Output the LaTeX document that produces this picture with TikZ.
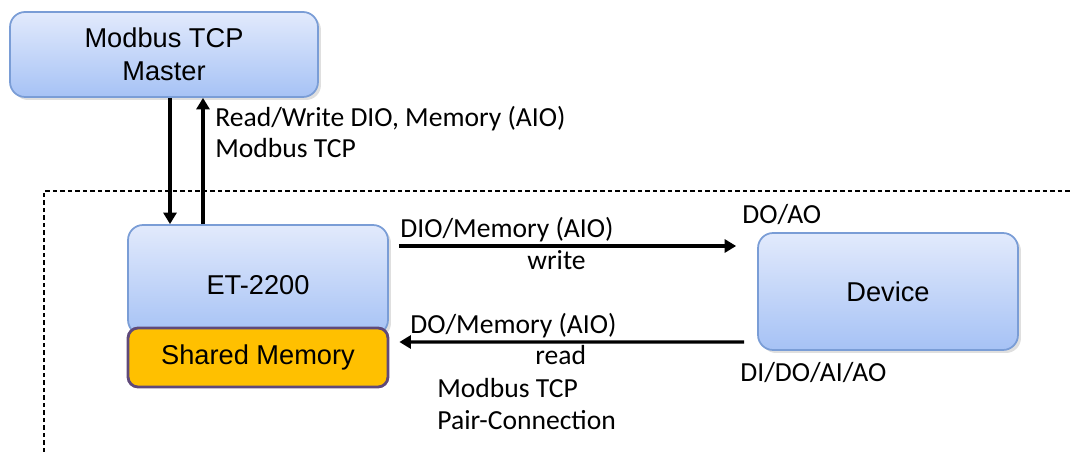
\documentclass[tikz,border=0pt]{standalone}
\usepackage{fontspec}
\setmainfont{Liberation Sans}
\newfontfamily\calfont{Carlito}
\usetikzlibrary{arrows.meta,shadows}
\definecolor{boxtop}{HTML}{E2EAFC}
\definecolor{boxbot}{HTML}{A6C2F5}
\definecolor{boxline}{HTML}{7A9DD6}
\definecolor{shmfill}{HTML}{FFC000}
\definecolor{shmline}{HTML}{5F497A}
\tikzset{
  bluebox/.style={rounded corners=0.3cm, draw=boxline, line width=1pt,
    top color=boxtop, bottom color=boxbot,
    drop shadow={opacity=0.25, shadow xshift=0.06cm, shadow yshift=-0.06cm},
    font=\fontsize{15.5}{19}\selectfont, align=center, inner sep=0pt},
  shmbox/.style={rounded corners=0.2cm, draw=shmline, line width=1.6pt, fill=shmfill,
    font=\fontsize{15.5}{19}\selectfont, inner sep=0pt},
  lbl/.style={font=\calfont\fontsize{15.7}{18}\selectfont, inner sep=0pt, anchor=base west},
  arr/.style={line width=1.9pt, -{Triangle[length=0.23cm, width=0.26cm]}},
  frame/.style={line width=0.6pt, dash pattern=on 0.09cm off 0.06cm}
}
\begin{document}
\begin{tikzpicture}[x=0.02cm, y=-0.02cm]
\useasboundingbox (0,0) rectangle (1071,452);
\draw[frame] (44,452) -- (44,191) -- (1071,191);
\node[bluebox, minimum width=6.16cm, minimum height=1.7cm] (master) at (164,54.5) {Modbus TCP\\Master};
\node[bluebox, minimum width=5.2cm, minimum height=2.2cm] (et) at (258,280) {};
\node[font=\fontsize{15.5}{19}\selectfont] (ettext) at (258,285) {ET-2200};
\node[shmbox, minimum width=5.2cm, minimum height=1.18cm] (shm) at (258,357.5) {Shared Memory};
\node[bluebox, minimum width=5.2cm, minimum height=2.34cm] (dev) at (888,291.5) {Device};
% vertical arrows
\draw[arr] ([shift={(6,0)}]master.south) -- ([shift={(-88,0)}]et.north);
\draw[arr] ([shift={(-55,0)}]et.north) -- ([shift={(39,0)}]master.south);
% horizontal arrows
\draw[arr] ([shift={(10,-34)}]et.east) -- ([shift={(-21,-45.5)}]dev.west);
\draw[arr] ([shift={(-13,50.5)}]dev.west) -- ([shift={(10,-15.5)}]shm.east);
% labels
\node[lbl] (l1) at (215,127) {Read/Write DIO, Memory (AIO)};
\node[lbl] (l2) at (215,158) {Modbus TCP};
\node[lbl] (l3) at (400,238) {DIO/Memory (AIO)};
\node[lbl] (l4) at (527,270) {write};
\node[lbl] (l5) at (742,224) {DO/AO};
\node[lbl] (l6) at (410,334) {DO/Memory (AIO)};
\node[lbl] (l7) at (535,364) {read};
\node[lbl] (l8) at (437,397) {Modbus TCP};
\node[lbl] (l9) at (437,429) {Pair-Connection};
\node[lbl] (l10) at (740,381) {DI/DO/AI/AO};
\end{tikzpicture}
\end{document}
